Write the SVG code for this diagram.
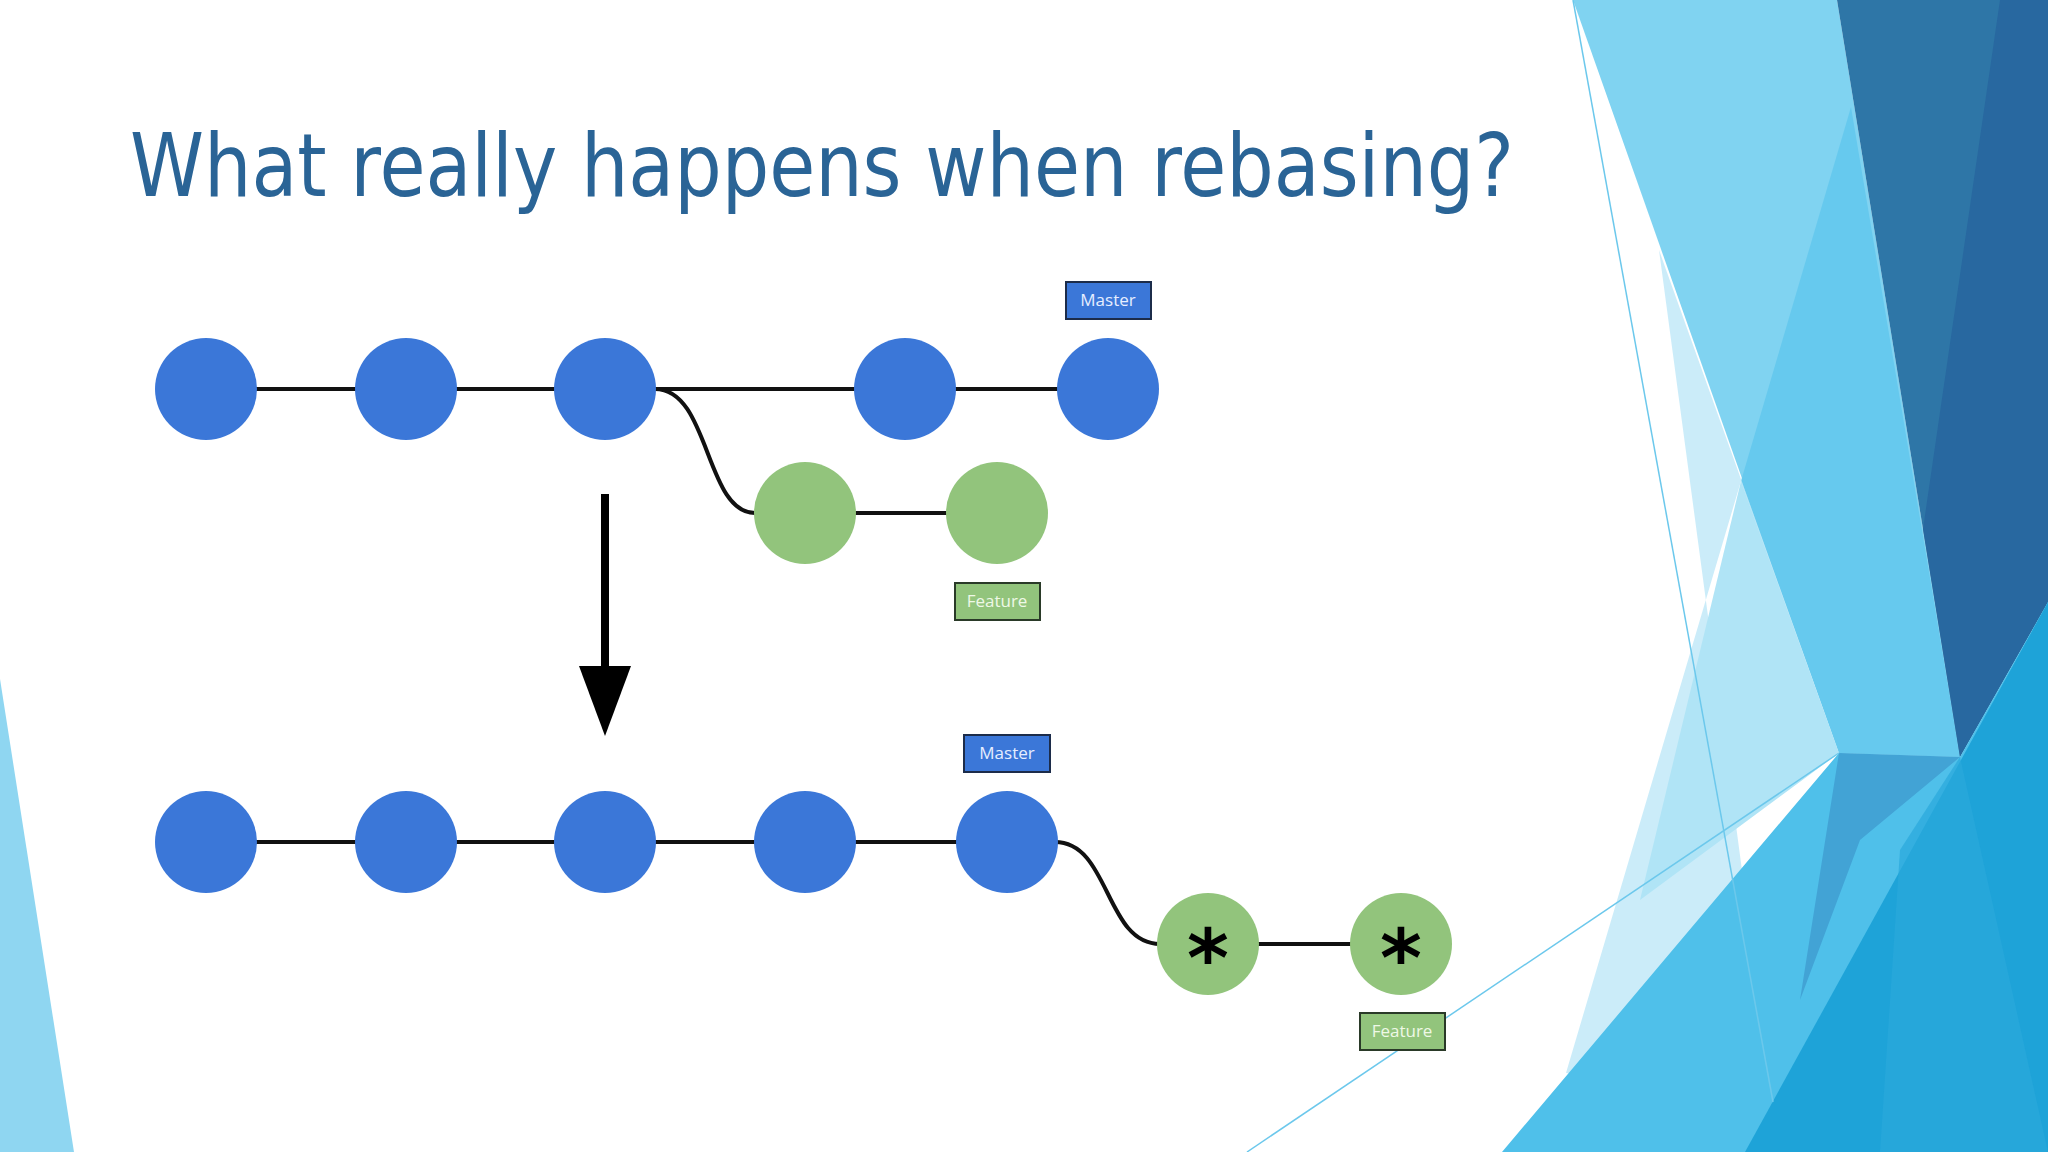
<svg xmlns="http://www.w3.org/2000/svg" width="2048" height="1152" viewBox="0 0 2048 1152">
<style>
.blue{fill:#3b77d8}
.green{fill:#92c47c}
.edge{stroke:#111;stroke-width:4;fill:none}
.lbl{font-family:"Open Sans","Liberation Sans",sans-serif;font-size:17px;text-anchor:middle}
.star{font-family:"DejaVu Sans","Liberation Sans",sans-serif;font-weight:bold;font-size:80px;text-anchor:middle;fill:#000}
</style>
<rect width="2048" height="1152" fill="#fff"/>
<g id="background">
<polygon points="1573,0 1837,0 1960,757 1839,753" fill="#80d3f1"/>
<polygon points="1851,107 1960,757 1839,753 1741,481" fill="#66c9ee"/>
<polygon points="1659,250 1839,753 1741,481 1566,1073 1773,1102" fill="#c5eaf8" opacity="0.9"/>
<polygon points="1741,481 1839,753 1640,900" fill="#b0e4f6"/>
<polygon points="1837,0 2048,0 2048,602 1960,757" fill="#2e76a7"/>
<polygon points="2000,0 2048,0 2048,602 1960,757 1923,529" fill="#2868a0"/>
<polygon points="1839,753 1960,757 2048,602 2048,1152 1502,1152" fill="#4fc0ea"/>
<polygon points="1839,753 1960,757 1860,840 1800,1000" fill="#3e9bd0" opacity="0.8"/>
<polygon points="2048,602 2048,1152 1745,1152" fill="#1ea3d8"/>
<polygon points="1960,757 2048,1152 1880,1152 1900,850" fill="#2aa8dc" opacity="0.7"/>
<polygon points="0,679 74,1152 0,1152" fill="#8fd6f1"/>
<line x1="1573" y1="0" x2="1773" y2="1102" stroke="#6cc8ec" stroke-width="1.5"/>
<line x1="1247" y1="1152" x2="1839" y2="753" stroke="#6cc8ec" stroke-width="1.5"/>
</g>
<text x="130" y="196" font-family="'DejaVu Sans','Liberation Sans',sans-serif" font-size="88" fill="#2a6496" textLength="1384" lengthAdjust="spacingAndGlyphs">What really happens when rebasing?</text>
<g id="connectors">
<line class="edge" x1="206" y1="389" x2="1108" y2="389"/>
<path class="edge" d="M655,389 C710,389 705,513 755,513"/>
<line class="edge" x1="805" y1="513" x2="997" y2="513"/>
<line class="edge" x1="206" y1="842" x2="1007" y2="842"/>
<path class="edge" d="M1055,842 C1110,842 1105,944 1160,944"/>
<line class="edge" x1="1208" y1="944" x2="1401" y2="944"/>
<line x1="605" y1="494" x2="605" y2="672" stroke="#000" stroke-width="8"/>
<polygon points="579,666 631,666 605,736" fill="#000"/>
</g>
<g id="top-commits">
<circle class="blue" cx="206" cy="389" r="51"/>
<circle class="blue" cx="406" cy="389" r="51"/>
<circle class="blue" cx="605" cy="389" r="51"/>
<circle class="blue" cx="905" cy="389" r="51"/>
<circle class="blue" cx="1108" cy="389" r="51"/>
<circle class="green" cx="805" cy="513" r="51"/>
<circle class="green" cx="997" cy="513" r="51"/>
</g>
<g id="top-master"><rect x="1066" y="282" width="85" height="37" class="blue" stroke="#1c2c4a" stroke-width="2"/><text class="lbl" x="1108" y="306" fill="#e6eeff">Master</text></g>
<g id="top-feature"><rect x="955" y="583" width="85" height="37" class="green" stroke="#2a3a28" stroke-width="2"/><text class="lbl" x="997" y="607" fill="#eef8e6">Feature</text></g>
<g id="bottom-commits">
<circle class="blue" cx="206" cy="842" r="51"/>
<circle class="blue" cx="406" cy="842" r="51"/>
<circle class="blue" cx="605" cy="842" r="51"/>
<circle class="blue" cx="805" cy="842" r="51"/>
<circle class="blue" cx="1007" cy="842" r="51"/>
<circle class="green" cx="1208" cy="944" r="51"/>
<circle class="green" cx="1401" cy="944" r="51"/>
<text class="star" x="1208" y="986">*</text>
<text class="star" x="1401" y="986">*</text>
</g>
<g id="bottom-master"><rect x="964" y="735" width="86" height="37" class="blue" stroke="#1c2c4a" stroke-width="2"/><text class="lbl" x="1007" y="759" fill="#e6eeff">Master</text></g>
<g id="bottom-feature"><rect x="1360" y="1013" width="85" height="37" class="green" stroke="#2a3a28" stroke-width="2"/><text class="lbl" x="1402" y="1037" fill="#eef8e6">Feature</text></g>
</svg>
